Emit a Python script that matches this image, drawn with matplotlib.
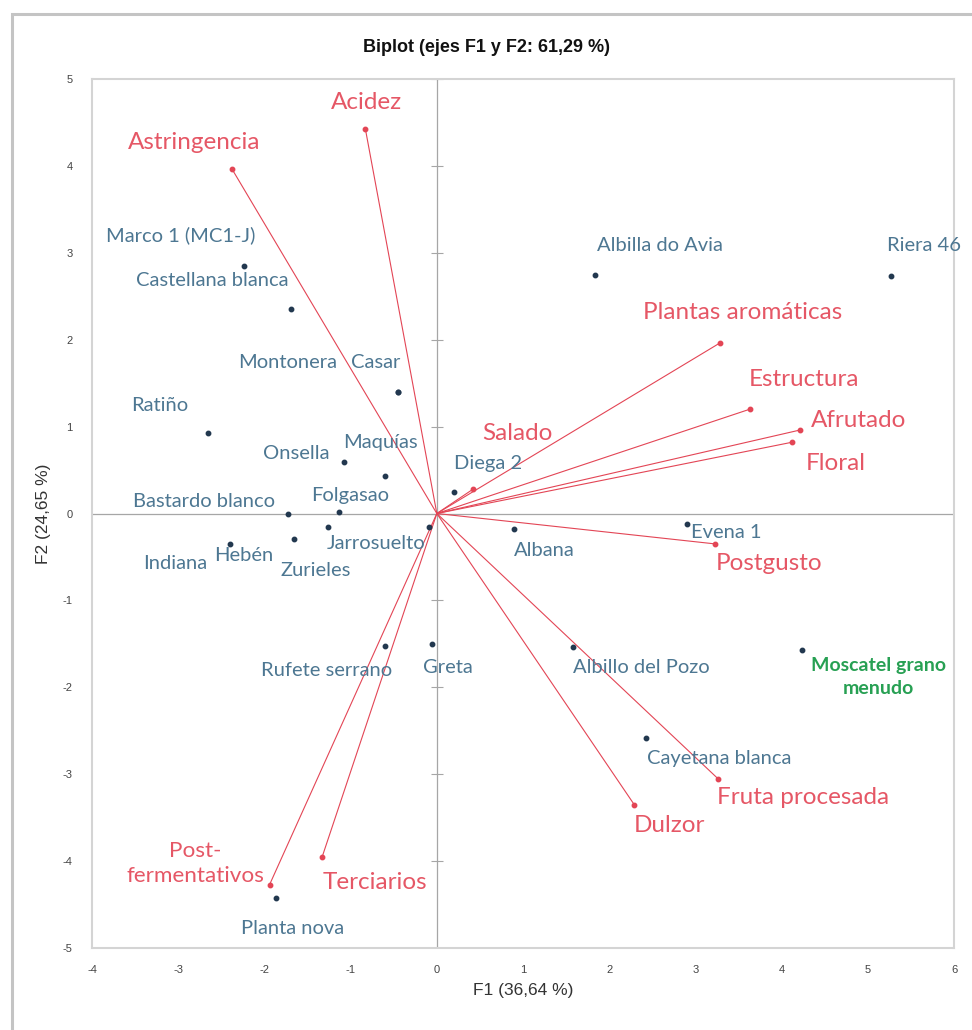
import matplotlib
matplotlib.use("Agg")
import matplotlib.pyplot as plt
from matplotlib.patches import Rectangle

plt.rcParams["axes.unicode_minus"] = False

# Observaciones (variedades): coordenadas F1 / F2
samples = [
    "Marco 1 (MC1-J)", "Castellana blanca", "Montonera", "Casar", "Ratiño",
    "Onsella", "Maquías", "Folgasao", "Bastardo blanco", "Jarrosuelto",
    "Zurieles", "Hebén", "Indiana", "Rufete serrano", "Greta", "Planta nova",
    "Diega 2", "Albana", "Evena 1", "Albillo del Pozo", "Albilla do Avia",
    "Riera 46", "Cayetana blanca", "Moscatel grano\nmenudo",
]
sample_f1 = [-2.24, -1.69, -0.45, -0.45, -2.65, -1.08, -0.60, -1.13, -1.73, -0.09,
             -1.66, -1.26, -2.40, -0.60, -0.06, -1.87, 0.20, 0.90, 2.90, 1.58,
             1.84, 5.27, 2.43, 4.24]
sample_f2 = [2.85, 2.35, 1.40, 1.40, 0.93, 0.59, 0.43, 0.02, 0.00, -0.15,
             -0.29, -0.16, -0.35, -1.52, -1.50, -4.43, 0.25, -0.18, -0.12, -1.54,
             2.74, 2.73, -2.58, -1.57]

# Variables (descriptores sensoriales): extremo de cada vector
variables = [
    "Acidez", "Astringencia", "Plantas aromáticas", "Estructura", "Afrutado",
    "Floral", "Salado", "Postgusto", "Fruta procesada", "Dulzor",
    "Post-\nfermentativos", "Terciarios",
]
var_f1 = [-0.83, -2.38, 3.28, 3.63, 4.21, 4.12, 0.42, 3.23, 3.26, 2.29, -1.94, -1.33]
var_f2 = [4.43, 3.97, 1.96, 1.20, 0.96, 0.82, 0.28, -0.35, -3.05, -3.35, -4.27, -3.95]

x_ticks = list(range(-4, 7))
y_ticks = list(range(-5, 6))

# posición de las etiquetas (x, y, alineación horizontal)
sample_label_pos = {
    "Marco 1 (MC1-J)": (-3.84, 3.20, "left"),
    "Castellana blanca": (-3.49, 2.68, "left"),
    "Montonera": (-2.31, 1.74, "left"),
    "Casar": (-1.00, 1.74, "left"),
    "Ratiño": (-3.55, 1.24, "left"),
    "Onsella": (-2.02, 0.69, "left"),
    "Maquías": (-1.09, 0.82, "left"),
    "Folgasao": (-1.46, 0.21, "left"),
    "Bastardo blanco": (-3.53, 0.14, "left"),
    "Jarrosuelto": (-1.28, -0.35, "left"),
    "Zurieles": (-1.81, -0.66, "left"),
    "Hebén": (-2.58, -0.48, "left"),
    "Indiana": (-3.41, -0.58, "left"),
    "Rufete serrano": (-2.04, -1.81, "left"),
    "Greta": (-0.16, -1.77, "left"),
    "Planta nova": (-2.27, -4.78, "left"),
    "Diega 2": (0.20, 0.58, "left"),
    "Albana": (0.90, -0.43, "left"),
    "Evena 1": (2.95, -0.22, "left"),
    "Albillo del Pozo": (1.58, -1.77, "left"),
    "Albilla do Avia": (1.86, 3.08, "left"),
    "Riera 46": (5.22, 3.08, "left"),
    "Cayetana blanca": (2.44, -2.82, "left"),
    "Moscatel grano\nmenudo": (5.12, -1.88, "center"),
}
var_label_pos = {
    "Acidez": (-1.23, 4.73, "left"),
    "Astringencia": (-3.58, 4.27, "left"),
    "Plantas aromáticas": (2.39, 2.31, "left"),
    "Estructura": (3.62, 1.54, "left"),
    "Afrutado": (4.34, 1.07, "left"),
    "Floral": (4.28, 0.58, "left"),
    "Salado": (0.53, 0.92, "left"),
    "Postgusto": (3.23, -0.58, "left"),
    "Fruta procesada": (3.25, -3.27, "left"),
    "Dulzor": (2.29, -3.59, "left"),
    "Post-\nfermentativos": (-2.80, -4.03, "center"),
    "Terciarios": (-1.32, -4.25, "left"),
}

RED = "#e34555"
BLUE_TXT = "#4d7792"
DOT = "#22384f"
GREEN = "#27a053"
LABEL_FONT = ["Lato", "DejaVu Sans"]

fig = plt.figure(figsize=(9.72, 10.30), dpi=100)

# marco exterior del gráfico
fig.patches.append(Rectangle((0.0123, -0.05), 1.1, 1.0364, transform=fig.transFigure,
                             fill=False, edgecolor="#c4c4c4", linewidth=2.2))

ax = fig.add_axes([0.0947, 0.0796, 0.8868, 0.8437])
ax.set_xlim(-4, 6)
ax.set_ylim(-5, 5)
for s in ax.spines.values():
    s.set_color("#d4d4d4")
    s.set_linewidth(1.5)

ax.set_xticks(x_ticks)
ax.set_yticks(y_ticks)
ax.tick_params(length=0, labelsize=8, labelcolor="#444444")
ax.tick_params(axis="x", pad=12)
ax.tick_params(axis="y", pad=14)
for lbl in ax.get_xticklabels() + ax.get_yticklabels():
    lbl.set_family("Liberation Sans")

# ejes por el origen
ax.axhline(0, color="#a6a6a6", linewidth=0.9, zorder=1)
ax.axvline(0, color="#a6a6a6", linewidth=0.9, zorder=1)
ax.plot([0] * len(y_ticks), y_ticks, linestyle="none", marker="_",
        markersize=9, markeredgewidth=0.8, color="#a6a6a6", zorder=1)

# vectores de las variables
for name, vx, vy in zip(variables, var_f1, var_f2):
    ax.plot([0, vx], [0, vy], color=RED, linewidth=0.8, zorder=2)
ax.plot(var_f1, var_f2, linestyle="none", marker="o", markersize=3.2,
        color=RED, zorder=3)
for name in variables:
    tx, ty, ha = var_label_pos[name]
    two_lines = "\n" in name
    ax.text(tx, ty, name, color=RED, fontsize=16.2 if two_lines else 17.5,
            ha=ha, va="center", family=LABEL_FONT, multialignment="center",
            linespacing=1.3, alpha=0.9, zorder=4)

# observaciones
ax.plot(sample_f1, sample_f2, linestyle="none", marker="o", markersize=3.2,
        color=DOT, zorder=3)
for name in samples:
    tx, ty, ha = sample_label_pos[name]
    if name.startswith("Moscatel"):
        ax.text(tx, ty, name, color=GREEN, fontsize=14, fontweight="bold",
                ha=ha, va="center", family=LABEL_FONT, multialignment="center",
                linespacing=1.4, zorder=4)
    else:
        ax.text(tx, ty, name, color=BLUE_TXT, fontsize=14.5, ha=ha, va="center",
                family=LABEL_FONT, zorder=4)

fig.text(0.5, 0.954, "Biplot (ejes F1 y F2: 61,29 %)", ha="center", va="center",
         fontsize=13, fontweight="bold", family="Liberation Sans", color="#111111")
ax.set_xlabel("F1 (36,64 %)", fontsize=12.5, family="Liberation Sans",
              color="#333333", labelpad=6)
ax.set_ylabel("F2 (24,65 %)", fontsize=12.5, family="Liberation Sans",
              color="#333333", labelpad=8)

fig.savefig("out.png", dpi=100)
